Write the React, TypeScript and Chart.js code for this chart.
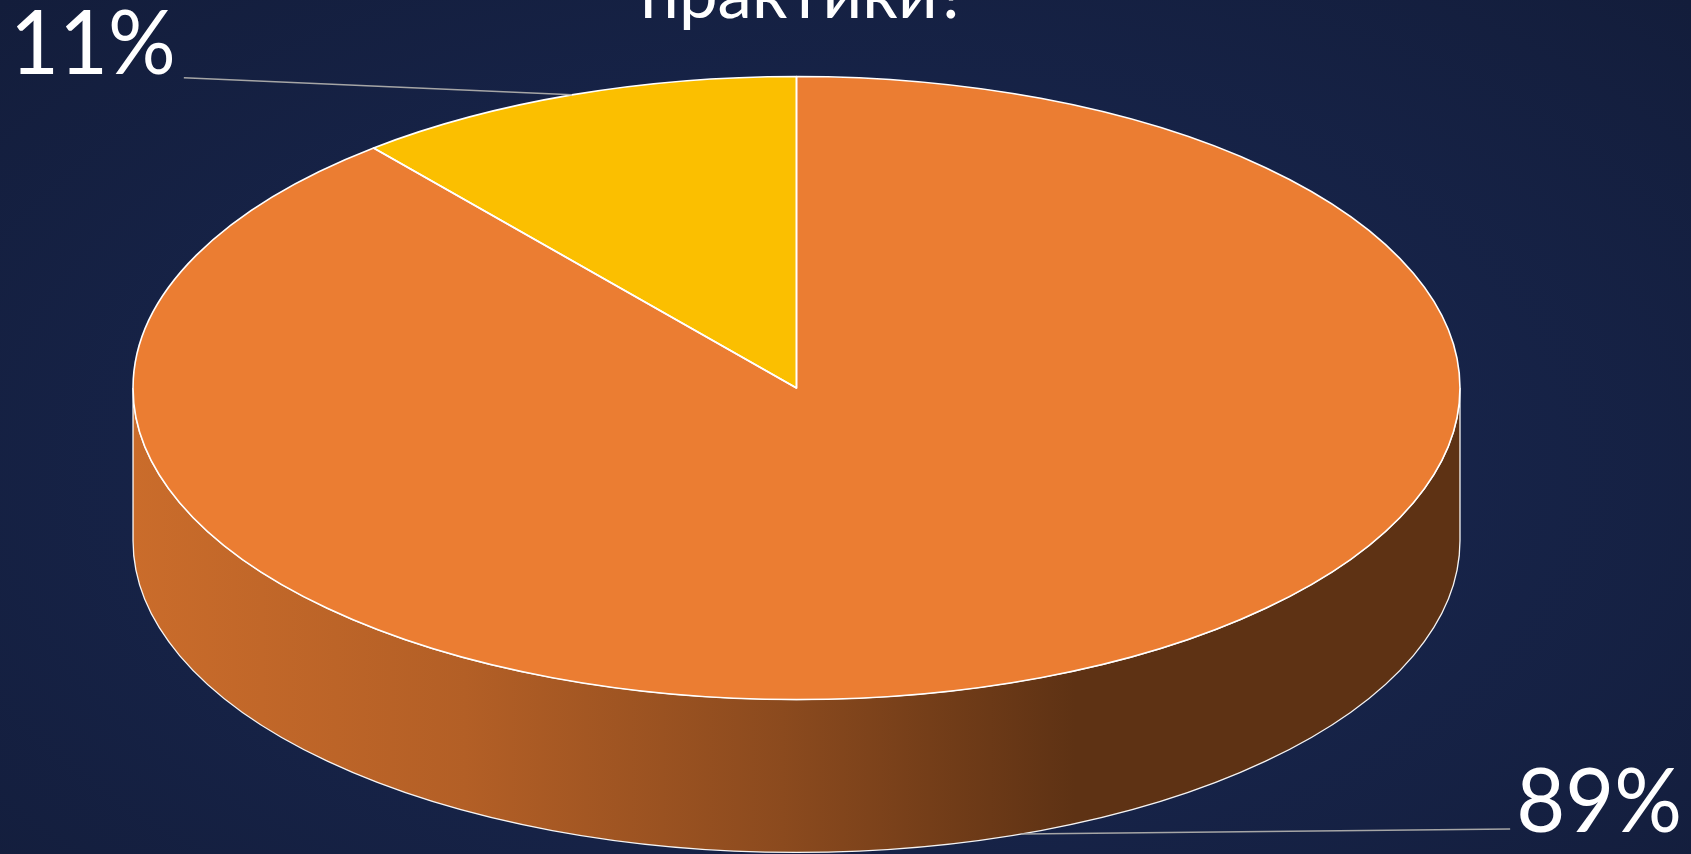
import React, { useEffect, useRef } from "react";
import { Chart, registerables } from "chart.js";

Chart.register(...registerables);

// ---- data ----
const categories = ["Вариант 1", "Вариант 2"];
const values = [11, 89];
const sliceColors = ["#FBBF00", "#EB7D32"];
const titleText = "практики?";

// ---- style constants ----
const W = 1691;
const H = 854;
const STRETCH_X = 1.71; // horizontal radius / chart radius
const SQUASH_Y = 0.803; // vertical radius / chart radius
const DEPTH = 0.394; // side depth / chart radius
const LABEL_FONT = "89px Lato, 'Open Sans', sans-serif";
const LABEL_SCALE_X = 0.95;
const SHADE_STOPS: [number, number][] = [
  [0, 0.86],
  [0.25, 0.76],
  [0.49, 0.59],
  [0.71, 0.4],
  [1, 0.4],
];

function shade(hex: string, k: number): string {
  const n = parseInt(hex.slice(1), 16);
  const r = Math.round(((n >> 16) & 255) * k);
  const g = Math.round(((n >> 8) & 255) * k);
  const b = Math.round((n & 255) * k);
  return `rgb(${r},${g},${b})`;
}

function geom(chart: any) {
  const meta = chart.getDatasetMeta(0);
  const arcs = meta.data as any[];
  if (!arcs.length) return null;
  const p = arcs[0].getProps(["x", "y", "outerRadius"], true);
  const r = p.outerRadius;
  return {
    arcs,
    cx: p.x,
    cy: p.y,
    r,
    rx: r * STRETCH_X,
    ry: r * SQUASH_Y,
    depth: r * DEPTH,
  };
}

const pie3d = {
  id: "pie3d",
  beforeDatasetsDraw(chart: any) {
    const g = geom(chart);
    if (!g) return;
    const ctx = chart.ctx as CanvasRenderingContext2D;
    const { arcs, cx, cy, rx, ry, depth } = g;
    // side walls (visible front half only)
    arcs.forEach((arc: any, i: number) => {
      const { startAngle, endAngle } = arc.getProps(["startAngle", "endAngle"], true);
      for (let k = -2; k <= 2; k++) {
        const lo = Math.max(startAngle, 2 * Math.PI * k);
        const hi = Math.min(endAngle, 2 * Math.PI * k + Math.PI);
        if (hi <= lo) continue;
        const grad = ctx.createLinearGradient(cx - rx, 0, cx + rx, 0);
        SHADE_STOPS.forEach(([o, f]) => grad.addColorStop(o, shade(sliceColors[i], f)));
        ctx.save();
        ctx.beginPath();
        ctx.ellipse(cx, cy, rx, ry, 0, lo, hi, false);
        ctx.lineTo(cx + rx * Math.cos(hi), cy + ry * Math.sin(hi) + depth);
        ctx.ellipse(cx, cy + depth, rx, ry, 0, hi, lo, true);
        ctx.closePath();
        ctx.fillStyle = grad;
        ctx.fill();
        ctx.strokeStyle = "rgba(255,255,255,0.95)";
        ctx.lineWidth = 1.3;
        ctx.stroke();
        ctx.restore();
      }
    });
    // squash the top face
    ctx.save();
    ctx.translate(cx, cy);
    ctx.scale(STRETCH_X, SQUASH_Y);
    ctx.translate(-cx, -cy);
  },
  afterDatasetsDraw(chart: any) {
    const g = geom(chart);
    if (!g) return;
    const ctx = chart.ctx as CanvasRenderingContext2D;
    ctx.restore();
    const { arcs, cx, cy, rx, ry, depth } = g;
    // outlines of the top face
    arcs.forEach((arc: any) => {
      const { startAngle, endAngle } = arc.getProps(["startAngle", "endAngle"], true);
      ctx.save();
      ctx.beginPath();
      ctx.moveTo(cx, cy);
      ctx.ellipse(cx, cy, rx, ry, 0, startAngle, endAngle, false);
      ctx.closePath();
      ctx.strokeStyle = "#ffffff";
      ctx.lineWidth = 1.6;
      ctx.lineJoin = "round";
      ctx.stroke();
      ctx.restore();
    });
    // data labels with leader lines
    const total = values.reduce((a, b) => a + b, 0);
    arcs.forEach((arc: any, i: number) => {
      const { startAngle, endAngle } = arc.getProps(["startAngle", "endAngle"], true);
      const mid = (startAngle + endAngle) / 2;
      const s = Math.sin(mid);
      const px = cx + rx * Math.cos(mid);
      const py = cy + ry * s + (s > 0 ? depth : 0);
      const text = `${Math.round((values[i] / total) * 100)}%`;
      ctx.save();
      ctx.font = LABEL_FONT;
      const tw = ctx.measureText(text).width * LABEL_SCALE_X;
      const left = Math.cos(mid) < 0;
      const lineY = s > 0 ? py - 5 : py - 17;
      const baseY = s > 0 ? lineY + 3 : lineY - 4;
      const textX = left ? 10 : W - 9;
      const lineEndX = left ? textX + tw + 8 : textX - tw - 6;
      ctx.beginPath();
      ctx.moveTo(px, py);
      ctx.lineTo(lineEndX, lineY);
      ctx.strokeStyle = "#A6A6A6";
      ctx.lineWidth = 1.5;
      ctx.stroke();
      ctx.translate(textX, baseY);
      ctx.scale(LABEL_SCALE_X, 1);
      ctx.fillStyle = "#ffffff";
      ctx.textAlign = left ? "left" : "right";
      ctx.textBaseline = "alphabetic";
      ctx.fillText(text, 0, 0);
      ctx.restore();
    });
  },
};

export default function App() {
  const canvasRef = useRef<HTMLCanvasElement | null>(null);

  useEffect(() => {
    document.body.style.margin = "0";
    document.body.style.overflow = "hidden";
    const canvas = canvasRef.current;
    if (!canvas) return;
    const rotationDeg = -(values[0] / values.reduce((a, b) => a + b, 0)) * 360;
    const chart = new Chart(canvas, {
      type: "pie",
      data: {
        labels: categories,
        datasets: [
          {
            data: values,
            backgroundColor: sliceColors,
            borderWidth: 0,
            hoverOffset: 0,
            offset: 0,
            clip: false,
          } as any,
        ],
      },
      options: {
        animation: false,
        responsive: false,
        devicePixelRatio: 1,
        rotation: rotationDeg,
        events: [],
        layout: { padding: { left: 0, top: 0, right: 98, bottom: 78 } },
        plugins: {
          legend: { display: false },
          title: { display: false },
          tooltip: { enabled: false },
        },
      },
      plugins: [pie3d],
    });
    return () => chart.destroy();
  }, []);

  return (
    <div
      style={{
        position: "fixed",
        left: 0,
        top: 0,
        width: W,
        height: H,
        overflow: "hidden",
        background:
          "radial-gradient(ellipse at 50% 55%, #1a2850 0%, #17244a 45%, #131d3b 100%)",
      }}
    >
      <div
        style={{
          position: "absolute",
          left: 6,
          top: -43,
          width: 1596,
          textAlign: "center",
          fontFamily: "Lato, 'Open Sans', sans-serif",
          fontSize: 69,
          lineHeight: 1,
          color: "#ffffff",
          whiteSpace: "nowrap",
        }}
      >
        {titleText}
      </div>
      <canvas
        ref={canvasRef}
        width={W}
        height={H}
        style={{ position: "absolute", left: 0, top: 0, width: W, height: H }}
      />
    </div>
  );
}
